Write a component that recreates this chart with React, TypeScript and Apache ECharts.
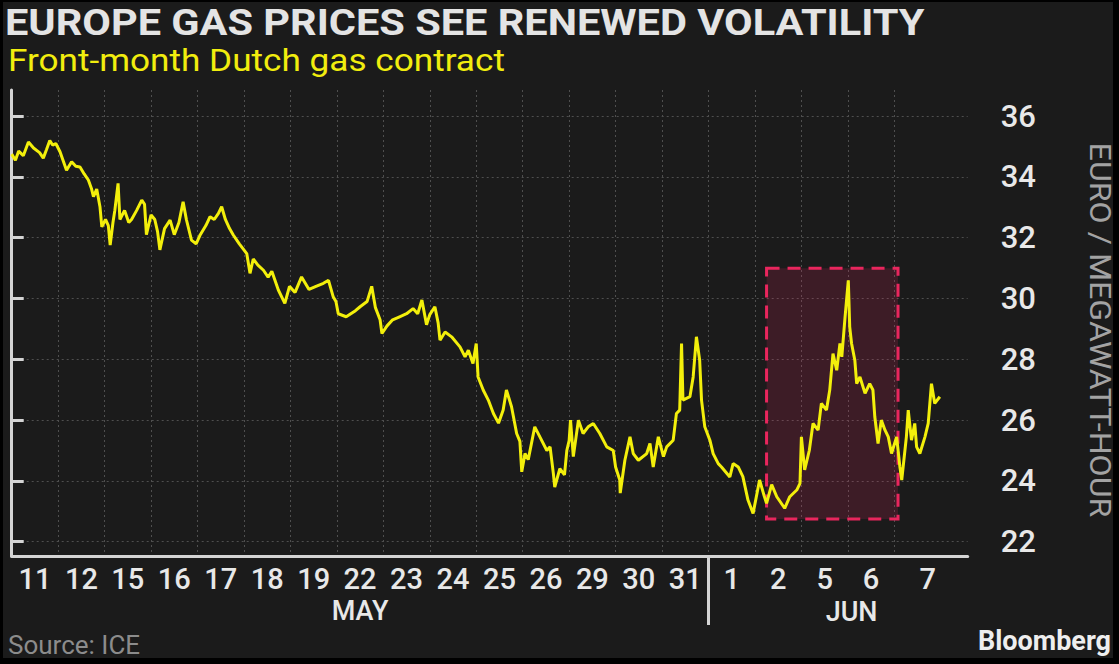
import React, { useEffect, useRef } from "react";
import * as echarts from "echarts";

// ---- categories (trading days) ----
const dayLabels = ["11", "12", "15", "16", "17", "18", "19", "22", "23", "24", "25", "26", "29", "30", "31", "1", "2", "5", "6", "7"];
// label anchor (in trading-day units) for each day label
const dayLabelPos = [0.5, 1.5, 2.5, 3.5, 4.5, 5.5, 6.5, 7.5, 8.5, 9.5, 10.5, 11.5, 12.5, 13.5, 14.5, 15.5, 16.5, 17.5, 18.5, 19.72];
const dayBoundaries = [0, 1, 2, 3, 4, 5, 6, 7, 8, 9, 10, 11, 12, 13, 14, 15, 16, 17, 18, 19];
const yTicks = [22, 24, 26, 28, 30, 32, 34, 36];

// ---- series values: time in trading days since May 11 open, price EUR/MWh ----
const mayTime = [
  0.0, 0.08, 0.15, 0.25, 0.36, 0.47, 0.6, 0.68, 0.75, 0.82, 0.88, 0.95, 1.04, 1.18, 1.29, 1.38, 1.47, 1.56, 1.65, 1.72,
  1.76, 1.83, 1.9, 1.94, 2.02, 2.08, 2.12, 2.18, 2.22, 2.29, 2.33, 2.43, 2.52, 2.58, 2.69, 2.8, 2.86, 2.9, 3.0, 3.08,
  3.14, 3.19, 3.29, 3.41, 3.5, 3.6, 3.69, 3.76, 3.87, 3.97, 4.06, 4.18, 4.27, 4.36, 4.45, 4.52, 4.6, 4.69, 4.77, 4.9,
  5.06, 5.13, 5.2, 5.3, 5.42, 5.52, 5.6, 5.74, 5.88, 5.98, 6.1, 6.24, 6.4, 6.55, 6.71, 6.82, 6.92, 6.98, 7.03, 7.2,
  7.4, 7.5, 7.65, 7.75, 7.83, 7.93, 7.97, 8.08, 8.2, 8.35, 8.5, 8.64, 8.74, 8.83, 8.93, 9.0, 9.11, 9.18, 9.22, 9.33,
  9.47, 9.65, 9.76, 9.83, 9.93, 10.0, 10.04, 10.15, 10.26, 10.37, 10.48, 10.58, 10.65, 10.76, 10.87, 10.94, 10.98, 11.05, 11.12, 11.26,
  11.37, 11.52, 11.59, 11.66, 11.69, 11.8, 11.9, 11.95, 12.0, 12.03, 12.09, 12.2, 12.3, 12.41, 12.52, 12.66, 12.81, 12.95, 13.0, 13.09,
  13.1, 13.2, 13.31, 13.38, 13.49, 13.67, 13.74, 13.81, 13.92, 14.03, 14.1, 14.24, 14.31, 14.38, 14.42, 14.45, 14.6, 14.67, 14.74, 14.81,
  14.85, 14.92,
];
const mayPrice = [
  34.75, 34.55, 34.85, 34.7, 35.15, 34.95, 34.8, 34.62, 34.9, 35.2, 35.05, 35.1, 34.83, 34.22, 34.5, 34.35, 34.33, 34.1, 33.9, 33.6,
  33.35, 33.6, 33.02, 32.36, 32.6, 32.4, 31.76, 32.5, 32.9, 33.79, 32.6, 32.9, 32.5, 32.6, 32.9, 33.24, 33.1, 32.1, 32.75, 32.6,
  32.2, 31.6, 32.3, 32.58, 32.1, 32.5, 33.18, 32.6, 31.92, 31.8, 32.1, 32.4, 32.69, 32.6, 32.8, 33.02, 32.6, 32.3, 32.09, 31.8,
  31.48, 30.83, 31.3, 31.1, 30.93, 30.7, 30.9, 30.28, 29.84, 30.4, 30.2, 30.71, 30.3, 30.4, 30.5, 30.6, 30.06, 29.9, 29.5, 29.4,
  29.6, 29.73, 29.9, 30.4, 29.7, 29.3, 28.85, 29.1, 29.3, 29.4, 29.5, 29.67, 29.5, 29.95, 29.14, 29.47, 29.73, 29.2, 28.63, 28.9,
  28.74, 28.41, 28.08, 28.3, 27.86, 28.52, 27.42, 26.99, 26.66, 26.22, 25.9, 26.33, 26.99, 26.44, 25.56, 25.3, 24.3, 24.9, 24.7, 25.78,
  25.45, 25.0, 25.12, 24.25, 23.8, 24.4, 24.2, 25.0, 25.33, 26.0, 24.8, 26.0, 25.56, 25.78, 25.89, 25.56, 25.12, 25.0, 24.46, 24.03,
  23.6, 24.68, 25.45, 24.9, 24.68, 24.9, 25.23, 24.46, 25.45, 24.8, 25.12, 25.34, 26.22, 26.33, 28.52, 26.66, 26.77, 27.42, 28.74, 27.97,
  26.66, 25.78,
];
const junTime = [
  15.03, 15.1, 15.21, 15.28, 15.46, 15.53, 15.64, 15.74, 15.85, 15.96, 16.1, 16.2, 16.25, 16.36, 16.47, 16.64, 16.75, 16.9, 16.97, 17.0,
  17.07, 17.17, 17.25, 17.36, 17.43, 17.54, 17.61, 17.68, 17.76, 17.83, 17.87, 17.94, 18.01, 18.04, 18.08, 18.15, 18.19, 18.26, 18.37, 18.47,
  18.54, 18.58, 18.65, 18.72, 18.8, 18.87, 18.94, 19.05, 19.12, 19.16, 19.26, 19.3, 19.37, 19.44, 19.48, 19.55, 19.66, 19.73, 19.8, 19.87,
  19.98,
];
const junPrice = [
  25.34, 24.9, 24.57, 24.46, 24.13, 24.57, 24.46, 24.14, 23.37, 22.93, 24.03, 23.5, 23.26, 23.88, 23.48, 23.1, 23.48, 23.7, 23.92, 25.45,
  24.36, 25.0, 25.89, 25.67, 26.55, 26.33, 26.99, 28.19, 27.64, 28.52, 28.08, 29.4, 30.6, 29.07, 28.52, 27.97, 27.2, 27.42, 26.88, 27.2,
  26.99, 26.11, 25.23, 26.0, 25.67, 25.45, 24.9, 25.45, 24.46, 24.03, 25.45, 26.33, 25.34, 25.89, 25.12, 24.9, 25.45, 25.89, 27.2, 26.55,
  26.77,
];

// highlighted window (time range, price range)
const highlightTime = [16.25, 19.08];
const highlightPrice = [22.75, 31.0];

const months = ["MAY", "JUN"];
const monthSplit = 15; // first June trading day

const FONT = "Roboto, 'Noto Sans', sans-serif";

function fitScale(text: string, font: string, target: number): number {
  try {
    const ctx = document.createElement("canvas").getContext("2d");
    if (!ctx) return 1;
    ctx.font = font;
    const w = ctx.measureText(text).width;
    return w > 0 ? target / w : 1;
  } catch (e) {
    return 1;
  }
}

export default function App() {
  const ref = useRef<HTMLDivElement>(null);

  useEffect(() => {
    if (!ref.current) return;
    const chart = echarts.init(ref.current, undefined, { renderer: "svg" });

    const data: [number, number][] = [];
    mayTime.forEach((t, i) => data.push([t, mayPrice[i]]));
    junTime.forEach((t, i) => data.push([t, junPrice[i]]));

    const axisColor = "#d4d4d4";
    const gridLine = { show: true, lineStyle: { color: "#4f4f4f", width: 1, type: [2, 3] as any } };

    chart.setOption({
      animation: false,
      backgroundColor: "#000000",
      grid: { left: 11.7, right: 151.3, top: 90, bottom: 108, containLabel: false },
      xAxis: {
        type: "value",
        min: 0,
        max: 20.58,
        axisLine: { show: true, onZero: false, lineStyle: { color: axisColor, width: 3 } },
        axisTick: { show: false, customValues: dayBoundaries },
        splitLine: gridLine,
        axisLabel: {
          customValues: dayLabelPos,
          formatter: (v: number) => dayLabels[Math.min(dayLabels.length - 1, Math.floor(v))],
          color: "#e8e8e8",
          fontSize: 29,
          fontFamily: FONT,
          fontWeight: 500,
          margin: 8,
          lineHeight: 30,
        },
      },
      yAxis: {
        type: "value",
        position: "right",
        min: 21.53,
        max: 36.86,
        axisLine: { show: true, lineStyle: { color: axisColor, width: 3 } },
        axisTick: { show: true, customValues: yTicks, length: 12, lineStyle: { color: axisColor, width: 3 } },
        axisLabel: {
          customValues: yTicks,
          color: "#e8e8e8",
          fontSize: 31,
          fontFamily: FONT,
          fontWeight: 500,
          margin: 33,
        },
        splitLine: gridLine,
      },
      series: [
        {
          type: "line",
          data,
          showSymbol: false,
          symbol: "none",
          lineStyle: { color: "#f3ef0b", width: 3 },
          z: 5,
          markArea: {
            silent: true,
            itemStyle: {
              color: "rgba(232,38,93,0.17)",
              borderColor: "#e8265d",
              borderWidth: 3,
              borderType: [13, 8],
            },
            data: [[{ xAxis: highlightTime[0], yAxis: highlightPrice[1] }, { xAxis: highlightTime[1], yAxis: highlightPrice[0] }]],
          },
        },
      ],
    });

    const [splitX, baseY] = chart.convertToPixel({ gridIndex: 0 }, [monthSplit, 21.53]) as number[];
    const [mayX] = chart.convertToPixel({ gridIndex: 0 }, [7.5, 22]) as number[];
    const [junX] = chart.convertToPixel({ gridIndex: 0 }, [18.08, 22]) as number[];

    const titleText = "EUROPE GAS PRICES SEE RENEWED VOLATILITY";
    const titleFont = `bold 36px ${FONT}`;
    const subText = "Front-month Dutch gas contract";
    const subFont = `32px ${FONT}`;
    const nameText = "EURO / MEGAWATT-HOUR";
    const nameFont = `29px ${FONT}`;

    chart.setOption({
      graphic: [
        { type: "rect", z: -100, silent: true, shape: { x: 3, y: 2, width: 1110, height: 656 }, style: { fill: "#1b1b1b" } },
        {
          type: "text", x: 5, y: 4, scaleX: fitScale(titleText, titleFont, 920),
          style: { text: titleText, fill: "#e4e4e4", font: titleFont, textVerticalAlign: "top" },
        },
        {
          type: "text", x: 8, y: 44, scaleX: fitScale(subText, subFont, 497),
          style: { text: subText, fill: "#f1ed0e", font: subFont, textVerticalAlign: "top" },
        },
        {
          type: "text", x: 1100, y: 330, rotation: -Math.PI / 2, scaleX: fitScale(nameText, nameFont, 375),
          style: { text: nameText, fill: "#a3a3a3", font: nameFont, textAlign: "center", textVerticalAlign: "middle" },
        },
        {
          type: "line", silent: true,
          shape: { x1: splitX, y1: baseY + 2, x2: splitX, y2: baseY + 69 },
          style: { stroke: axisColor, lineWidth: 3 },
        },
        {
          type: "text", x: mayX, y: 611,
          style: { text: months[0], fill: "#e8e8e8", font: `500 27px ${FONT}`, textAlign: "center", textVerticalAlign: "middle" },
        },
        {
          type: "text", x: junX, y: 612,
          style: { text: months[1], fill: "#e8e8e8", font: `500 27px ${FONT}`, textAlign: "center", textVerticalAlign: "middle" },
        },
        {
          type: "text", x: 8, y: 645,
          style: { text: "Source: ICE", fill: "#8c8c8c", font: `26px ${FONT}`, textVerticalAlign: "middle" },
        },
        {
          type: "text", x: 1111, y: 641,
          style: { text: "Bloomberg", fill: "#eeeeee", font: `bold 27px ${FONT}`, textAlign: "right", textVerticalAlign: "middle" },
        },
      ],
    });

    return () => chart.dispose();
  }, []);

  return (
    <div style={{ position: "absolute", left: 0, top: 0, width: 1119, height: 664, background: "#000" }}>
      <div ref={ref} style={{ width: 1119, height: 664 }} />
    </div>
  );
}
